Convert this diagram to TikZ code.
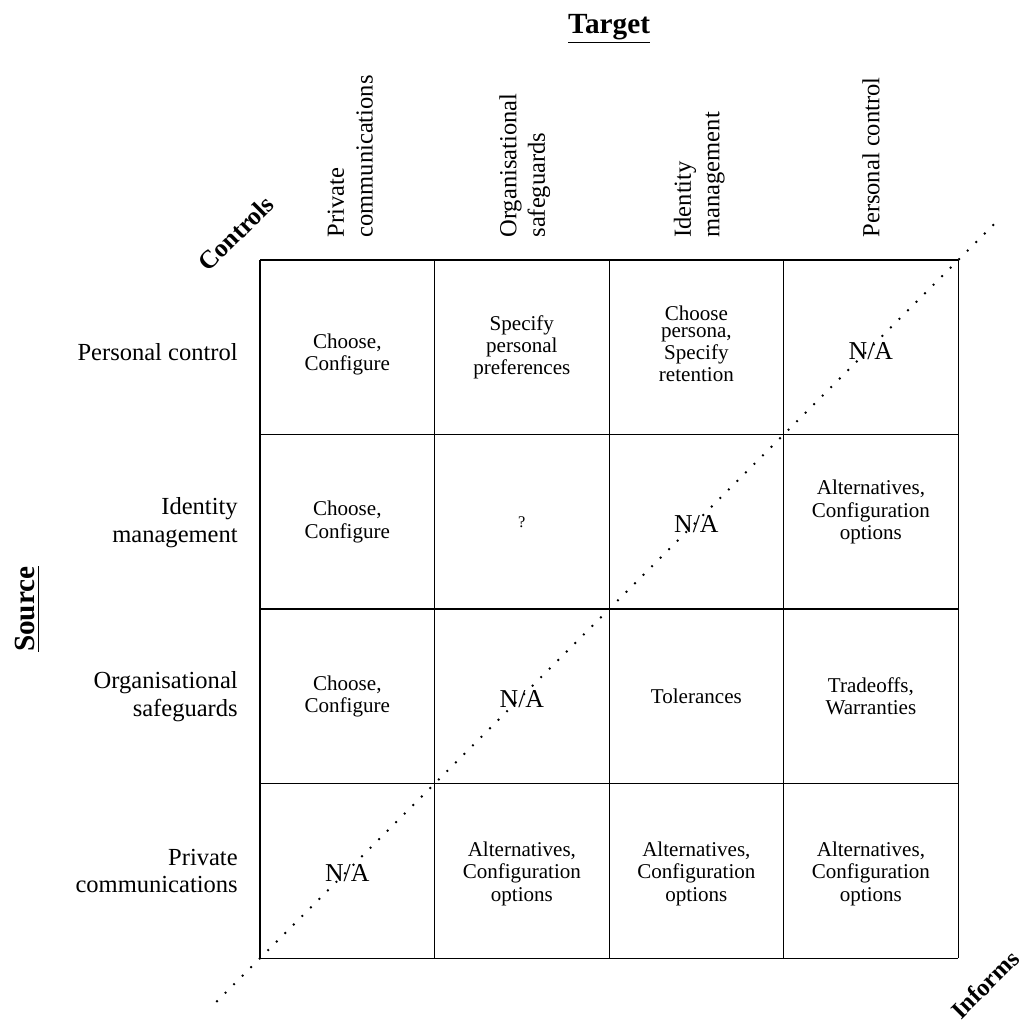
\documentclass[tikz,border=0pt]{standalone}
\usepackage{fontspec}
\setmainfont{Liberation Serif}
\usepackage{tikz}
\usetikzlibrary{positioning,calc}

\begin{document}
\begin{tikzpicture}[
    cell/.style={font=\fontsize{10.3}{10.9}\selectfont, align=center},
    na/.style={font=\fontsize{12.6}{14}\selectfont},
    lab/.style={font=\fontsize{12}{13.6}\selectfont, align=right, anchor=east},
    hdr/.style={font=\fontsize{12}{14}\selectfont, align=left, rotate=90, anchor=west, inner sep=0pt},
    ttl/.style={font=\fontsize{14.3}{16}\selectfont\bfseries},
    diag/.style={font=\fontsize{12.5}{14}\selectfont\bfseries, rotate=45, inner sep=1pt}
]
    \useasboundingbox (-4.47,-1.08) rectangle (13.05,16.47);

    % Grid and diagonal
    \draw[line width=0.6pt, step=3cm] (0,0) grid (12,12);
    \draw[line width=1.3pt, line cap=round, dash pattern=on 0pt off 5.9pt] (-0.74,-0.74) -- (12.64,12.64);

    % Axis titles
    \node[ttl, anchor=base] (target) at (6,15.9) {\underline{Target}};
    \node[ttl, anchor=base, rotate=90] (source) at (-3.87,6) {\underline{Source}};
    \node[diag] (controls) at (-0.41,12.46) {Controls};
    \node[diag, font=\fontsize{12}{14}\selectfont\bfseries] (informs) at (12.46,-0.45) {Informs};

    % Column headers (target)
    \node[hdr] (tpc) at (1.55,12.38) {Private\\communications};
    \node[hdr] (tos) at (4.55,12.38) {Organisational\\safeguards};
    \node[hdr] (tim) at (7.55,12.38) {Identity\\management};
    \node[hdr] (tpe) at (10.5,12.38) {Personal control};

    % Row headers (source)
    \node[lab] (spe) at (-0.26,10.42) {Personal control};
    \node[lab] (sim) at (-0.26,7.48) {Identity\\management};
    \node[lab] (sos) at (-0.26,4.5) {Organisational\\safeguards};
    \node[lab] (spc) at (-0.26,1.5) {Private\\communications};

    % Personal control row
    \node[cell] (pe-pc) at (1.5,10.38) {Choose,\\Configure};
    \node[cell] (pe-os) at (4.5,10.5) {Specify\\personal\\preferences};
    \node[cell] (pe-im) at (7.5,10.56) {Choose\\[-2.5pt]persona,\\Specify\\retention};
    \node[na] (pe-pe) at (10.5,10.44) {N/A};

    % Identity management row
    \node[cell] (im-pc) at (1.5,7.5) {Choose,\\Configure};
    \node[cell, font=\fontsize{8}{9}\selectfont] (im-os) at (4.5,7.5) {?};
    \node[na] (im-im) at (7.5,7.46) {N/A};
    \node[cell] (im-pe) at (10.5,7.67) {Alternatives,\\Configuration\\options};

    % Organisational safeguards row
    \node[cell] (os-pc) at (1.5,4.5) {Choose,\\Configure};
    \node[na] (os-os) at (4.5,4.46) {N/A};
    \node[cell] (os-im) at (7.5,4.5) {Tolerances};
    \node[cell] (os-pe) at (10.5,4.5) {Tradeoffs,\\Warranties};

    % Private communications row
    \node[na] (pc-pc) at (1.5,1.46) {N/A};
    \node[cell] (pc-os) at (4.5,1.45) {Alternatives,\\Configuration\\options};
    \node[cell] (pc-im) at (7.5,1.45) {Alternatives,\\Configuration\\options};
    \node[cell] (pc-pe) at (10.5,1.45) {Alternatives,\\Configuration\\options};
\end{tikzpicture}
\end{document}
